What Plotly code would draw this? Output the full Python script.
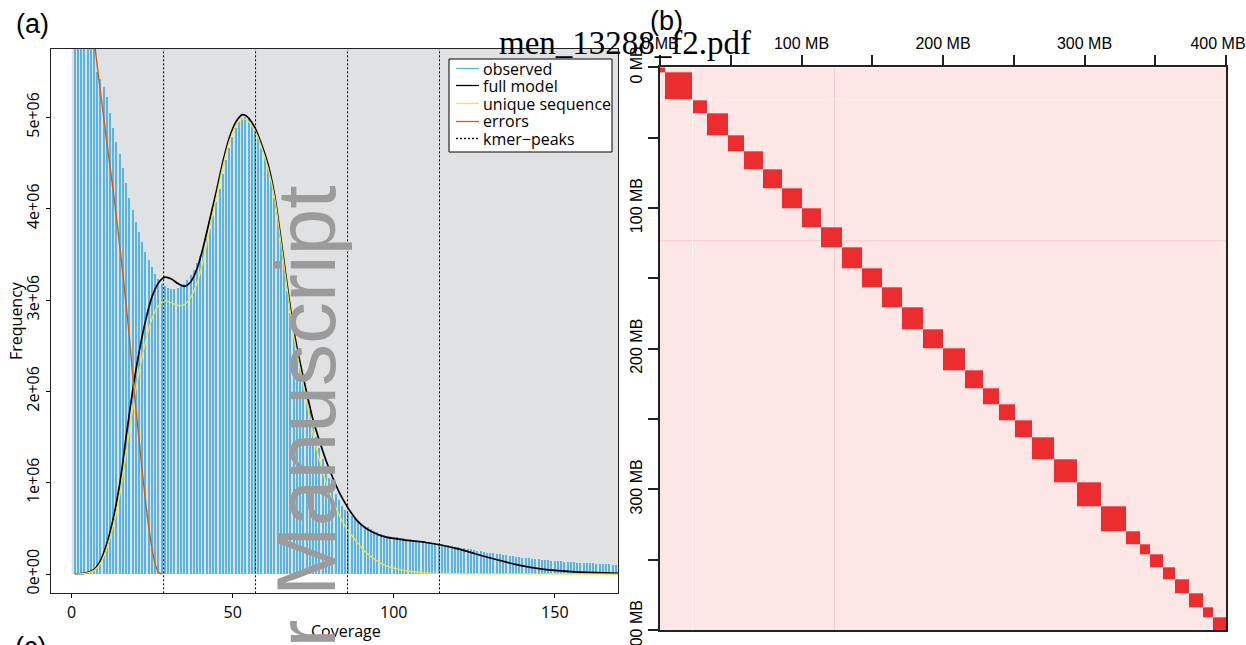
import bisect
import plotly.graph_objects as go

W, H = 1246, 645

# ---------------- panel (a): k-mer spectrum (values in millions) ----------------
coverage = list(range(1, 171))
observed_m = [
    40.0, 25.0, 15.0, 10.0, 7.6, 6.3, 5.75, 5.5, 5.42, 5.33,
    5.22, 5.05, 4.88, 4.73, 4.6, 4.45, 4.28, 4.12, 3.98, 3.85,
    3.74, 3.63, 3.53, 3.44, 3.36, 3.29, 3.23, 3.18, 3.15, 3.13,
    3.12, 3.12, 3.13, 3.15, 3.18, 3.22, 3.27, 3.33, 3.4, 3.48,
    3.57, 3.67, 3.78, 3.92, 4.07, 4.22, 4.38, 4.53, 4.66, 4.78,
    4.88, 4.95, 4.99, 5.0, 4.98, 4.93, 4.86, 4.77, 4.66, 4.55,
    4.45, 4.3, 4.12, 3.9, 3.65, 3.38, 3.1, 2.86, 2.62, 2.43,
    2.26, 2.1, 1.94, 1.79, 1.64, 1.5, 1.38, 1.26, 1.15, 1.05,
    0.96, 0.88, 0.81, 0.75, 0.7, 0.67, 0.64, 0.61, 0.58, 0.55,
    0.53, 0.51, 0.49, 0.47, 0.46, 0.44, 0.43, 0.42, 0.41, 0.405,
    0.4, 0.395, 0.39, 0.385, 0.38, 0.375, 0.37, 0.365, 0.36, 0.355,
    0.35, 0.345, 0.34, 0.335, 0.33, 0.32, 0.315, 0.31, 0.3, 0.295,
    0.29, 0.28, 0.275, 0.27, 0.26, 0.255, 0.25, 0.24, 0.235, 0.23,
    0.225, 0.22, 0.215, 0.21, 0.205, 0.2, 0.195, 0.19, 0.185, 0.18,
    0.176, 0.172, 0.168, 0.164, 0.16, 0.157, 0.154, 0.151, 0.148, 0.145,
    0.142, 0.139, 0.136, 0.133, 0.13, 0.128, 0.126, 0.124, 0.122, 0.12,
    0.118, 0.116, 0.114, 0.112, 0.11, 0.108, 0.106, 0.104, 0.102, 0.1,
]

model_cov = [1, 3, 5, 7, 9, 11, 13, 15, 17, 19, 21, 23, 25, 27, 29, 31, 33, 35, 37, 39,
             41, 43, 45, 47, 49, 51, 52, 53, 54, 55, 57, 59, 61, 63, 65, 67, 69, 71, 73, 75,
             77, 79, 81, 83, 85, 87, 89, 91, 94, 97, 100, 105, 110, 115, 120, 125, 130, 135,
             140, 145, 150, 155, 160, 165, 170]
model_m = [0.0, 0.004, 0.015, 0.05, 0.15, 0.34, 0.62, 1.0, 1.52, 2.02, 2.44, 2.78, 3.04, 3.19, 3.25,
           3.23, 3.18, 3.15, 3.2, 3.35, 3.6, 3.9, 4.2, 4.52, 4.78, 4.95, 5.0, 5.03, 5.02, 4.99,
           4.88, 4.7, 4.48, 4.15, 3.66, 3.14, 2.66, 2.3, 1.98, 1.68, 1.45, 1.24, 1.06, 0.9, 0.77,
           0.66, 0.57, 0.51, 0.45, 0.41, 0.39, 0.365, 0.345, 0.315, 0.275, 0.225, 0.175, 0.13,
           0.09, 0.06, 0.04, 0.027, 0.018, 0.012, 0.008]

unique_cov = [1, 3, 5, 7, 9, 11, 13, 15, 17, 19, 21, 23, 25, 27, 29, 31, 33, 35, 37, 39,
              41, 43, 45, 47, 49, 51, 52, 53, 54, 55, 57, 59, 61, 63, 65, 67, 69, 71, 73, 75,
              77, 79, 81, 83, 85, 87, 89, 91, 93, 95, 97, 100, 103, 106, 110, 115, 120, 130, 170]
unique_m = [0.0, 0.003, 0.012, 0.04, 0.12, 0.29, 0.54, 0.88, 1.34, 1.82, 2.22, 2.55, 2.8, 2.94,
            2.99, 2.97, 2.94, 2.95, 3.03, 3.19, 3.46, 3.8, 4.14, 4.47, 4.74, 4.91, 4.96, 4.98,
            4.98, 4.95, 4.85, 4.67, 4.44, 4.12, 3.62, 3.1, 2.6, 2.23, 1.88, 1.52, 1.24, 1.0,
            0.81, 0.65, 0.52, 0.42, 0.33, 0.25, 0.19, 0.14, 0.1, 0.065, 0.04, 0.025, 0.013,
            0.006, 0.003, 0.001, 0.0]

error_cov = list(range(1, 29))
error_m = [8.2, 7.8, 7.4, 7.0, 6.6, 6.2, 5.85, 5.55, 5.27, 4.99, 4.71, 4.44, 4.17, 3.88,
           3.57, 3.25, 2.92, 2.57, 2.15, 1.8, 1.45, 1.1, 0.78, 0.5, 0.27, 0.1, 0.02, 0.0]

kmer_peaks = [28.55, 57.1, 85.65, 114.2]

x_ticks_a = [0, 50, 100, 150]
y_ticks_a = [0, 1e6, 2e6, 3e6, 4e6, 5e6]
y_ticktext_a = ["0e+00", "1e+06", "2e+06", "3e+06", "4e+06", "5e+06"]
x_range_a = [-6.4, 169.7]
y_range_a = [-0.211e6, 5.748e6]

legend_labels = ["observed", "full model", "unique sequence", "errors", "kmer\u2212peaks"]

# ---------------- panel (b): Hi-C contact map ----------------
chrom_bounds_mb = [0, 3.5, 23.1, 33.0, 48.0, 59.5, 72.5, 86.0, 100.3, 113.8, 128.3, 142.8,
                   156.7, 170.7, 185.9, 200.0, 215.4, 228.3, 239.6, 251.0, 263.2, 278.4,
                   294.9, 311.9, 329.5, 339.4, 346.0, 355.4, 364.1, 374.2, 383.6, 390.7, 400.0]
gap_strips_mb = [(22.6, 23.6)]
dark_strips_mb = [(123.2, 123.9)]
mb_ticks = [0, 50, 100, 150, 200, 250, 300, 350, 400]
mb_ticktext_top = ["0 MB", "", "100 MB", "", "200 MB", "", "300 MB", "", "400 MB\u2002\u2002"]
mb_ticktext_left = ["0 MB", "", "100 MB", "", "200 MB", "", "300 MB", "", "400 MB"]

# ---------------- colours ----------------
C_OBS = "#56B4E9"
C_MODEL = "black"
C_UNIQUE = "#F0E442"
C_ERR = "#D55E00"
C_BG = "#E0E1E3"

observed = [v * 1e6 for v in observed_m]
model = [v * 1e6 for v in model_m]
unique = [v * 1e6 for v in unique_m]
errors = [v * 1e6 for v in error_m]

fig = go.Figure()

fig.add_trace(go.Bar(x=coverage, y=observed, width=0.45, name=legend_labels[0],
                     marker=dict(color=C_OBS, line=dict(width=0)),
                     showlegend=False, hoverinfo="skip", xaxis="x", yaxis="y"))
fig.add_trace(go.Scatter(x=model_cov, y=model, mode="lines", name=legend_labels[1],
                         line=dict(color=C_MODEL, width=1.7, shape="spline", smoothing=0.8),
                         showlegend=False, xaxis="x", yaxis="y"))
fig.add_trace(go.Scatter(x=unique_cov, y=unique, mode="lines", name=legend_labels[2],
                         line=dict(color=C_UNIQUE, width=1.3, shape="spline", smoothing=0.8),
                         showlegend=False, xaxis="x", yaxis="y"))
fig.add_trace(go.Scatter(x=error_cov, y=errors, mode="lines", name=legend_labels[3],
                         line=dict(color=C_ERR, width=1.4, shape="spline", smoothing=0.8),
                         showlegend=False, xaxis="x", yaxis="y"))
pk_x, pk_y = [], []
for p in kmer_peaks:
    pk_x += [p, p, None]
    pk_y += [y_range_a[0], y_range_a[1], None]
fig.add_trace(go.Scatter(x=pk_x, y=pk_y, mode="lines", name=legend_labels[4],
                         line=dict(color="black", width=1, dash="2px,2px"),
                         showlegend=False, xaxis="x", yaxis="y"))

# Hi-C matrix built from chromosome boundaries
edges = set(chrom_bounds_mb)
for a, b in gap_strips_mb + dark_strips_mb:
    edges.update([a, b])
edges = sorted(edges)
centers = [(edges[i] + edges[i + 1]) / 2 for i in range(len(edges) - 1)]


def in_strips(c, strips):
    return any(a <= c <= b for a, b in strips)


def block_of(c):
    return bisect.bisect_right(chrom_bounds_mb, c) - 1


z = []
for cy in centers:
    row = []
    for cx in centers:
        if in_strips(cx, gap_strips_mb) or in_strips(cy, gap_strips_mb):
            v = 0
        elif block_of(cx) == block_of(cy):
            v = 3
        elif in_strips(cx, dark_strips_mb) or in_strips(cy, dark_strips_mb):
            v = 2
        else:
            v = 1
        row.append(v)
    z.append(row)

fig.add_trace(go.Heatmap(x=edges, y=edges, z=z, zmin=0, zmax=3,
                         colorscale=[[0, "#FFF5F5"], [1 / 3, "#FCE6E6"],
                                     [2 / 3, "#F7CACC"], [1, "#EC2D2F"]],
                         showscale=False, hoverinfo="skip", xaxis="x2", yaxis="y2"))

font_a = dict(family="Open Sans", size=16, color="black")
font_b = dict(family="Liberation Sans", size=16, color="black")

common = dict(showgrid=False, zeroline=False, automargin=False, showline=True, mirror=True)

fig.update_layout(
    width=W, height=H, autosize=False,
    margin=dict(l=0, r=0, t=0, b=0, pad=0),
    paper_bgcolor="white", plot_bgcolor="white",
    showlegend=False, bargap=0,
    xaxis=dict(domain=[51 / W, 618.3 / W], range=x_range_a, anchor="y",
               tickvals=x_ticks_a, ticks="outside", ticklen=4, tickcolor="black",
               linecolor="#222", linewidth=1.3, tickfont=font_a, **common),
    yaxis=dict(domain=[1 - 593.3 / H, 1 - 49 / H], range=y_range_a, anchor="x",
               tickvals=y_ticks_a, ticktext=y_ticktext_a, tickangle=-90,
               ticks="outside", ticklen=4, tickcolor="black",
               linecolor="#222", linewidth=1.3, tickfont=font_a, **common),
    xaxis2=dict(domain=[660 / W, 1226 / W], range=[0, 400], anchor="y2", side="top",
                tickvals=mb_ticks, ticktext=mb_ticktext_top, ticks="outside", ticklen=10,
                tickwidth=1.5, tickcolor="#222", linecolor="#222", linewidth=2,
                tickfont=font_b, ticklabeloverflow="allow", **common),
    yaxis2=dict(domain=[1 - 630 / H, 1 - 67.3 / H], range=[400, 0], anchor="x2",
                tickvals=mb_ticks, ticktext=mb_ticktext_left, tickangle=-90, ticks="outside",
                ticklen=10, tickwidth=1.5, tickcolor="#222", linecolor="#222",
                linewidth=2, tickfont=font_b, ticklabeloverflow="allow", **common),
)

shapes = [dict(type="rect", xref="x", yref="y", x0=0, x1=x_range_a[1],
               y0=0, y1=y_range_a[1], fillcolor=C_BG, line=dict(width=0), layer="below")]

# legend box drawn in the panel (a) corner
leg_x0, leg_x1, leg_top, leg_bot = 449, 612, 59, 152
row_y = [68.5, 85.5, 103.5, 121.5, 138.5]
leg_colors = [C_OBS, C_MODEL, C_UNIQUE, C_ERR, "black"]
leg_dash = ["solid", "solid", "solid", "solid", "2px,2px"]
shapes.append(dict(type="rect", xref="paper", yref="paper", x0=leg_x0 / W, x1=leg_x1 / W,
                   y0=1 - leg_bot / H, y1=1 - leg_top / H, fillcolor="white",
                   line=dict(color="black", width=1), layer="above"))
ann = []
for lab, col, dsh, ry in zip(legend_labels, leg_colors, leg_dash, row_y):
    shapes.append(dict(type="line", xref="paper", yref="paper", x0=456 / W, x1=479 / W,
                       y0=1 - ry / H, y1=1 - ry / H, line=dict(color=col, width=1.3, dash=dsh),
                       layer="above"))
    ann.append(dict(text=lab, x=481 / W, y=1 - ry / H, xanchor="left",
                    font=dict(family="Open Sans", size=16, color="black")))
fig.update_layout(shapes=shapes)

ann += [
    dict(text="Frequency", x=16 / W, y=1 - 321 / H, textangle=-90, font=font_a),
    dict(text="Coverage", x=346 / W, y=1 - 631 / H, font=font_a),
    dict(text="(a)", x=32.5 / W, y=1 - 24.5 / H, font=dict(family="Liberation Sans", size=27, color="black")),
    dict(text="(b)", x=666 / W, y=1 - 21 / H, font=dict(family="Liberation Sans", size=27, color="black")),
    dict(text="(c)", x=30 / W, y=1 - 630 / H, yanchor="top",
         font=dict(family="Liberation Sans", size=27, color="black")),
    dict(text="Author Manuscript", x=306 / W, y=1 - 183 / H, yanchor="top", textangle=-90,
         font=dict(family="Liberation Sans", size=84, color="#9B9B9B")),
    dict(text="men_13288_f2.pdf", x=624.5 / W, y=1 - 43 / H,
         font=dict(family="Liberation Serif", size=33, color="black")),
]
for a in ann:
    a.setdefault("xanchor", "center")
    a.setdefault("yanchor", "middle")
    a.update(xref="paper", yref="paper", showarrow=False)
fig.update_layout(annotations=ann)

fig.write_html("out.html", config={"displayModeBar": False},
               post_script="document.body.style.margin='0px';document.body.style.overflow='hidden';")
